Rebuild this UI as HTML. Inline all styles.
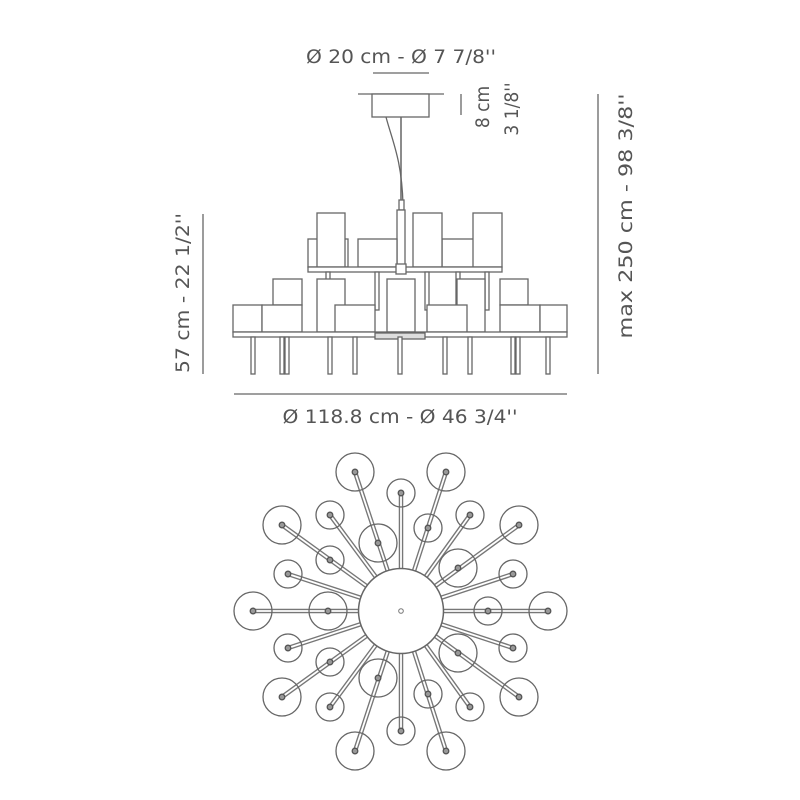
<!DOCTYPE html>
<html><head><meta charset="utf-8"><style>
html,body{margin:0;padding:0;background:#fff}
svg{display:block}
text{font-family:"DejaVu Sans Condensed","Liberation Sans",sans-serif;fill:#555;font-size:19px}
</style></head><body>
<svg width="800" height="800" viewBox="0 0 800 800" xmlns="http://www.w3.org/2000/svg">
<!-- dimension texts -->
<text x="401" y="63" text-anchor="middle" textLength="190" lengthAdjust="spacingAndGlyphs">Ø 20 cm - Ø 7 7/8''</text>
<line x1="373" y1="73" x2="429" y2="73" stroke="#666" stroke-width="1.3"/>
<text x="400" y="423" text-anchor="middle" textLength="235" lengthAdjust="spacingAndGlyphs">Ø 118.8 cm - Ø 46 3/4''</text>
<line x1="234" y1="394" x2="567" y2="394" stroke="#666" stroke-width="1.3"/>
<line x1="203" y1="214" x2="203" y2="374" stroke="#666" stroke-width="1.3"/>
<text transform="translate(189,293) rotate(-90)" text-anchor="middle" textLength="160" lengthAdjust="spacingAndGlyphs">57 cm - 22 1/2''</text>
<line x1="598" y1="94" x2="598" y2="374" stroke="#666" stroke-width="1.3"/>
<text transform="translate(632,216) rotate(-90)" text-anchor="middle" textLength="245" lengthAdjust="spacingAndGlyphs">max 250 cm - 98 3/8''</text>
<line x1="461" y1="94" x2="461" y2="115" stroke="#666" stroke-width="1.3"/>
<text transform="translate(489,107) rotate(-90)" text-anchor="middle">8 cm</text>
<text transform="translate(518,109) rotate(-90)" text-anchor="middle">3 1/8''</text>

<!-- elevation -->
<g stroke="#666" stroke-width="1.3" fill="#fff">
<line x1="358" y1="94" x2="444" y2="94"/>
<rect x="372" y="94" width="57" height="23"/>
<line x1="401" y1="117" x2="401" y2="205" stroke-width="1.5"/>
<path d="M386 117 C392 140 402 160 403 205" fill="none"/>
<rect x="399" y="200" width="5" height="10"/>
<rect x="397" y="210" width="8" height="57"/>
<!-- upper shades -->
<rect x="308" y="239" width="40" height="28"/>
<rect x="317" y="213" width="28" height="54"/>
<rect x="358" y="239" width="39" height="28"/>
<rect x="442" y="239" width="36" height="28"/>
<rect x="413" y="213" width="29" height="54"/>
<rect x="473" y="213" width="29" height="54"/>
<rect x="308" y="267" width="194" height="5"/>
<rect x="396" y="264" width="10" height="10"/>
<!-- upper stems -->
<rect x="326" y="272" width="4" height="38"/>
<rect x="375" y="272" width="4" height="38"/>
<rect x="425" y="272" width="4" height="38"/>
<rect x="456" y="272" width="4" height="38"/>
<rect x="485" y="272" width="4" height="38"/>
<!-- lower shades -->
<rect x="273" y="279" width="29" height="26"/>
<rect x="233" y="305" width="29" height="27"/>
<rect x="262" y="305" width="40" height="27"/>
<rect x="317" y="279" width="28" height="53"/>
<rect x="335" y="305" width="40" height="27"/>
<rect x="387" y="279" width="28" height="53"/>
<rect x="457" y="279" width="28" height="53"/>
<rect x="427" y="305" width="40" height="27"/>
<rect x="500" y="279" width="28" height="26"/>
<rect x="500" y="305" width="40" height="27"/>
<rect x="540" y="305" width="27" height="27"/>
<rect x="233" y="332" width="334" height="5"/>
<rect x="375" y="333" width="50" height="6" fill="#ddd"/>
<!-- legs -->
<g fill="#fff">
<rect x="251" y="337" width="4" height="37"/>
<rect x="280" y="337" width="4" height="37"/>
<rect x="285" y="337" width="4" height="37"/>
<rect x="328" y="337" width="4" height="37"/>
<rect x="353" y="337" width="4" height="37"/>
<rect x="398" y="337" width="4" height="37"/>
<rect x="443" y="337" width="4" height="37"/>
<rect x="468" y="337" width="4" height="37"/>
<rect x="511" y="337" width="4" height="37"/>
<rect x="516" y="337" width="4" height="37"/>
<rect x="546" y="337" width="4" height="37"/>
</g>
</g>

<!-- plan view -->
<g stroke-linecap="butt">
<g stroke="#777" stroke-width="4.5">
<line x1="401" y1="611" x2="355" y2="472"/><line x1="401" y1="611" x2="446" y2="472"/>
<line x1="401" y1="611" x2="282" y2="525"/><line x1="401" y1="611" x2="519" y2="525"/>
<line x1="401" y1="611" x2="253" y2="611"/><line x1="401" y1="611" x2="548" y2="611"/>
<line x1="401" y1="611" x2="282" y2="697"/><line x1="401" y1="611" x2="519" y2="697"/>
<line x1="401" y1="611" x2="355" y2="751"/><line x1="401" y1="611" x2="446" y2="751"/>
<line x1="401" y1="611" x2="401" y2="493"/><line x1="401" y1="611" x2="330" y2="515"/>
<line x1="401" y1="611" x2="470" y2="515"/><line x1="401" y1="611" x2="288" y2="574"/>
<line x1="401" y1="611" x2="513" y2="574"/><line x1="401" y1="611" x2="288" y2="648"/>
<line x1="401" y1="611" x2="513" y2="648"/><line x1="401" y1="611" x2="330" y2="707"/>
<line x1="401" y1="611" x2="470" y2="707"/><line x1="401" y1="611" x2="401" y2="731"/>
</g>
<g stroke="#fff" stroke-width="1.8">
<line x1="401" y1="611" x2="355" y2="472"/><line x1="401" y1="611" x2="446" y2="472"/>
<line x1="401" y1="611" x2="282" y2="525"/><line x1="401" y1="611" x2="519" y2="525"/>
<line x1="401" y1="611" x2="253" y2="611"/><line x1="401" y1="611" x2="548" y2="611"/>
<line x1="401" y1="611" x2="282" y2="697"/><line x1="401" y1="611" x2="519" y2="697"/>
<line x1="401" y1="611" x2="355" y2="751"/><line x1="401" y1="611" x2="446" y2="751"/>
<line x1="401" y1="611" x2="401" y2="493"/><line x1="401" y1="611" x2="330" y2="515"/>
<line x1="401" y1="611" x2="470" y2="515"/><line x1="401" y1="611" x2="288" y2="574"/>
<line x1="401" y1="611" x2="513" y2="574"/><line x1="401" y1="611" x2="288" y2="648"/>
<line x1="401" y1="611" x2="513" y2="648"/><line x1="401" y1="611" x2="330" y2="707"/>
<line x1="401" y1="611" x2="470" y2="707"/><line x1="401" y1="611" x2="401" y2="731"/>
</g>
<circle cx="401" cy="611" r="42.5" fill="#fff" stroke="#666" stroke-width="1.5"/>
<circle cx="401" cy="611" r="2.3" fill="#fff" stroke="#777" stroke-width="1"/>
<g fill="none" stroke="#666" stroke-width="1.3">
<circle cx="355" cy="472" r="19"/><circle cx="446" cy="472" r="19"/>
<circle cx="282" cy="525" r="19"/><circle cx="519" cy="525" r="19"/>
<circle cx="253" cy="611" r="19"/><circle cx="548" cy="611" r="19"/>
<circle cx="282" cy="697" r="19"/><circle cx="519" cy="697" r="19"/>
<circle cx="355" cy="751" r="19"/><circle cx="446" cy="751" r="19"/>
<circle cx="378" cy="543" r="19"/><circle cx="458" cy="568" r="19"/>
<circle cx="328" cy="611" r="19"/><circle cx="458" cy="653" r="19"/>
<circle cx="378" cy="678" r="19"/>
<circle cx="401" cy="493" r="14"/><circle cx="330" cy="515" r="14"/>
<circle cx="470" cy="515" r="14"/><circle cx="288" cy="574" r="14"/>
<circle cx="513" cy="574" r="14"/><circle cx="288" cy="648" r="14"/>
<circle cx="513" cy="648" r="14"/><circle cx="330" cy="707" r="14"/>
<circle cx="470" cy="707" r="14"/><circle cx="401" cy="731" r="14"/>
<circle cx="428" cy="528" r="14"/><circle cx="330" cy="560" r="14"/>
<circle cx="488" cy="611" r="14"/><circle cx="330" cy="662" r="14"/>
<circle cx="428" cy="694" r="14"/>
</g>
<g fill="#999" stroke="#555" stroke-width="1.3">
<circle cx="355" cy="472" r="2.8"/><circle cx="446" cy="472" r="2.8"/>
<circle cx="282" cy="525" r="2.8"/><circle cx="519" cy="525" r="2.8"/>
<circle cx="253" cy="611" r="2.8"/><circle cx="548" cy="611" r="2.8"/>
<circle cx="282" cy="697" r="2.8"/><circle cx="519" cy="697" r="2.8"/>
<circle cx="355" cy="751" r="2.8"/><circle cx="446" cy="751" r="2.8"/>
<circle cx="378" cy="543" r="2.8"/><circle cx="458" cy="568" r="2.8"/>
<circle cx="328" cy="611" r="2.8"/><circle cx="458" cy="653" r="2.8"/>
<circle cx="378" cy="678" r="2.8"/>
<circle cx="401" cy="493" r="2.8"/><circle cx="330" cy="515" r="2.8"/>
<circle cx="470" cy="515" r="2.8"/><circle cx="288" cy="574" r="2.8"/>
<circle cx="513" cy="574" r="2.8"/><circle cx="288" cy="648" r="2.8"/>
<circle cx="513" cy="648" r="2.8"/><circle cx="330" cy="707" r="2.8"/>
<circle cx="470" cy="707" r="2.8"/><circle cx="401" cy="731" r="2.8"/>
<circle cx="428" cy="528" r="2.8"/><circle cx="330" cy="560" r="2.8"/>
<circle cx="488" cy="611" r="2.8"/><circle cx="330" cy="662" r="2.8"/>
<circle cx="428" cy="694" r="2.8"/>
</g>
</g>
</svg>
</body></html>
